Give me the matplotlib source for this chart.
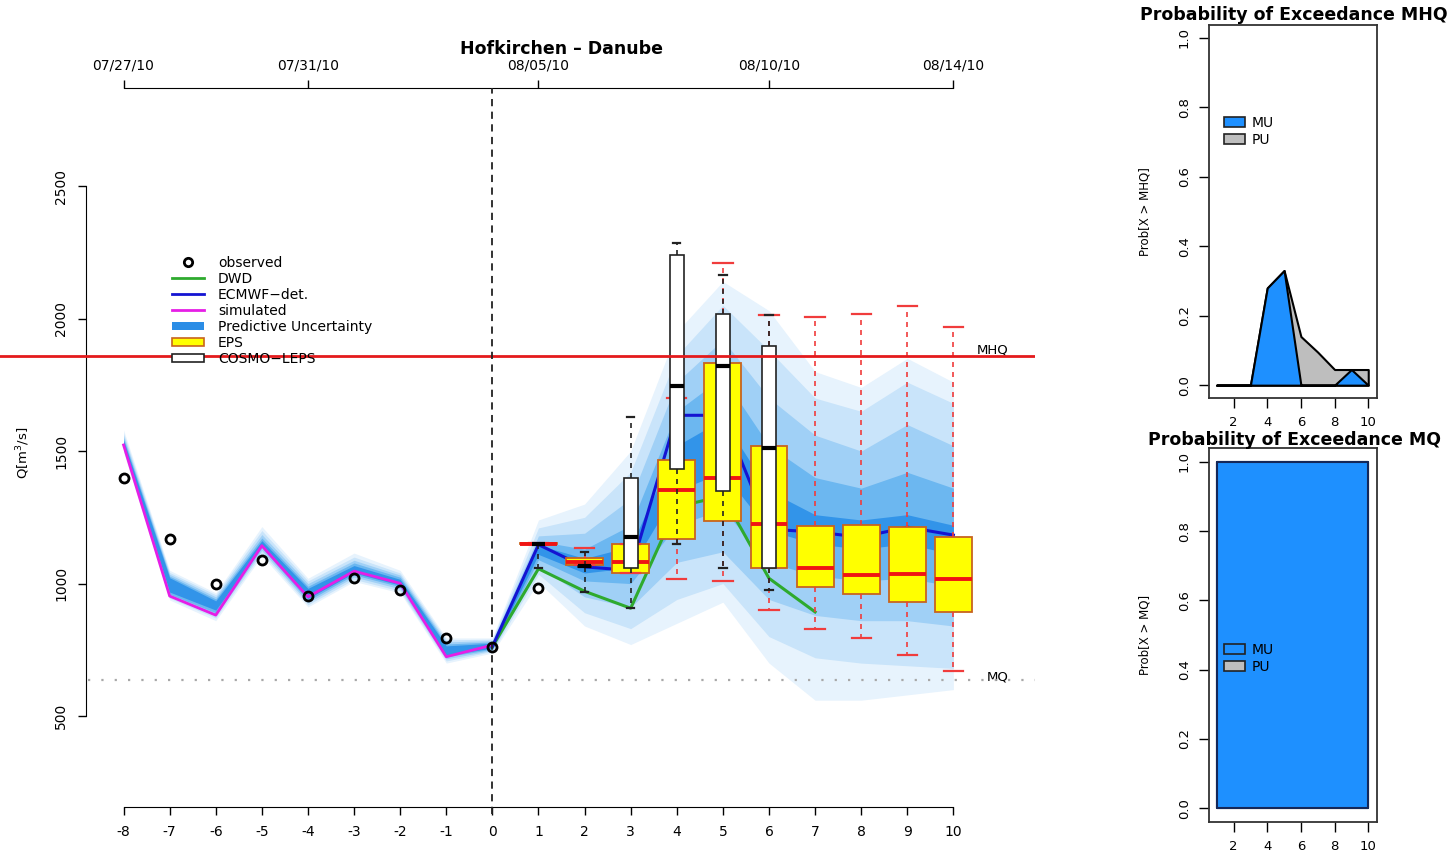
import matplotlib
matplotlib.use('Agg')
import matplotlib.pyplot as plt
from matplotlib.lines import Line2D
from matplotlib.patches import Patch

plt.rcParams['font.family'] = ['DejaVu Sans']

# --- data ------------------------------------------------------------------
leads = [-8, -7, -6, -5, -4, -3, -2, -1, 0, 1, 2, 3, 4, 5, 6, 7, 8, 9, 10]

obs_leads = [-8, -7, -6, -5, -4, -3, -2, -1, 0, 1]
observed = [1399, 1168, 1000, 1089, 954, 1022, 975, 794, 762, 983]

hind_leads = [-8, -7, -6, -5, -4, -3, -2, -1, 0]
simulated = [1523, 953, 881, 1143, 950, 1047, 1001, 724, 768]

fc_leads = [0, 1, 2, 3, 4, 5, 6, 7, 8, 9, 10]
ecmwf = [762, 1147, 1063, 1050, 1635, 1635, 1205, 1195, 1175, 1213, 1183]

dwd_leads = [0, 1, 2, 3, 4, 5, 6, 7]
dwd = [762, 1056, 971, 907, 1290, 1330, 1020, 893]

# predictive uncertainty, nested quantile bands (outer -> inner)
pu_lo1 = [1495, 938, 860, 1105, 912, 1008, 965, 700, 738, 1005, 840, 770, 850, 930, 700, 560, 560, 580, 600]
pu_hi1 = [1580, 1050, 965, 1215, 1020, 1115, 1050, 795, 795, 1240, 1300, 1500, 1950, 2140, 2030, 1800, 1740, 1850, 1760]
pu_lo2 = [1502, 945, 870, 1115, 920, 1016, 972, 708, 744, 1035, 890, 830, 940, 1000, 800, 720, 700, 690, 680]
pu_hi2 = [1568, 1042, 958, 1200, 1010, 1100, 1040, 788, 790, 1210, 1250, 1420, 1860, 2050, 1880, 1700, 1650, 1760, 1680]
pu_lo3 = [1508, 952, 880, 1125, 928, 1025, 980, 716, 748, 1065, 950, 910, 1080, 1120, 940, 880, 860, 860, 840]
pu_hi3 = [1558, 1035, 950, 1185, 1000, 1088, 1032, 780, 785, 1180, 1190, 1320, 1760, 1920, 1700, 1560, 1500, 1600, 1520]
pu_lo4 = [1514, 960, 890, 1135, 936, 1033, 988, 724, 752, 1090, 1010, 1000, 1220, 1280, 1080, 1030, 1010, 1020, 990]
pu_hi4 = [1548, 1028, 942, 1172, 990, 1078, 1024, 772, 780, 1160, 1130, 1220, 1650, 1780, 1520, 1400, 1360, 1420, 1360]
pu_lo5 = [1520, 968, 900, 1142, 944, 1040, 994, 730, 756, 1110, 1040, 1060, 1350, 1420, 1200, 1150, 1130, 1150, 1110]
pu_hi5 = [1540, 1022, 935, 1162, 982, 1068, 1016, 765, 775, 1145, 1095, 1140, 1520, 1620, 1350, 1260, 1240, 1260, 1220]

# EPS boxplots
eps_leads = [1, 2, 3, 4, 5, 6, 7, 8, 9, 10]
eps_whislo = [1148, 1070, 1040, 1019, 1009, 902, 827, 795, 730, 671]
eps_q1 = [1148, 1070, 1040, 1168, 1236, 1057, 986, 959, 931, 893]
eps_med = [1150, 1082, 1080, 1353, 1399, 1224, 1057, 1032, 1038, 1019]
eps_q3 = [1153, 1095, 1149, 1468, 1833, 1519, 1217, 1221, 1212, 1177]
eps_whishi = [1153, 1135, 1149, 1700, 2208, 2013, 2007, 2016, 2047, 1969]

# COSMO-LEPS boxplots
cosmo_leads = [1, 2, 3, 4, 5, 6]
cosmo_whislo = [1057, 969, 906, 1151, 1057, 975]
cosmo_q1 = [1150, 1064, 1060, 1431, 1349, 1057]
cosmo_med = [1150, 1066, 1176, 1746, 1821, 1510]
cosmo_q3 = [1150, 1068, 1397, 2240, 2016, 1896]
cosmo_whishi = [1150, 1120, 1630, 2284, 2164, 2013]

mhq = 1860
mq = 638

y_ticks = [500, 1000, 1500, 2000, 2500]
y_labels = ['500', '1000', '1500', '2000', '2500']
date_ticks = [-8, -4, 1, 6, 10]
date_labels = ['07/27/10', '07/31/10', '08/05/10', '08/10/10', '08/14/10']

# exceedance probabilities
prob_x = [1, 2, 3, 4, 5, 6, 7, 8, 9, 10]
mu_mhq = [0.0, 0.0, 0.0, 0.28, 0.33, 0.0, 0.0, 0.0, 0.045, 0.0]
pu_mhq = [0.0, 0.0, 0.0, 0.28, 0.33, 0.14, 0.095, 0.045, 0.045, 0.045]
mu_mq = [1.0, 1.0, 1.0, 1.0, 1.0, 1.0, 1.0, 1.0, 1.0, 1.0]
pu_mq = [1.0, 1.0, 1.0, 1.0, 1.0, 1.0, 1.0, 1.0, 1.0, 1.0]
prob_ticks = [0.0, 0.2, 0.4, 0.6, 0.8, 1.0]
prob_labels = ['0.0', '0.2', '0.4', '0.6', '0.8', '1.0']
prob_xticks = [2, 4, 6, 8, 10]

# --- layout helpers ---------------------------------------------------------
W, H = 1449, 855


def px_box(x0, y0, x1, y1):
    return [x0 / W, 1 - y1 / H, (x1 - x0) / W, (y1 - y0) / H]


fig = plt.figure(figsize=(W / 100, H / 100), dpi=100)

# --- main hydrograph --------------------------------------------------------
ax = fig.add_axes(px_box(0, 88, 1035, 807))
ax.patch.set_alpha(0)

band_colors = ['#e7f3fd', '#c9e4fa', '#a0d0f6', '#6cb7f0', '#3294e9']
bands = [(pu_lo1, pu_hi1), (pu_lo2, pu_hi2), (pu_lo3, pu_hi3), (pu_lo4, pu_hi4), (pu_lo5, pu_hi5)]
for (lo, hi), c in zip(bands, band_colors):
    ax.fill_between(leads, lo, hi, color=c, lw=0, zorder=1)

ax.plot(hind_leads, simulated, color='#e61ee6', lw=2, zorder=3)
ax.plot(dwd_leads, dwd, color='#2eaa2e', lw=2.2, zorder=3)
ax.plot(fc_leads, ecmwf, color='#1414d2', lw=2.2, zorder=3)

eps_stats = [dict(med=m, q1=a, q3=b, whislo=l, whishi=h, fliers=[])
             for l, a, m, b, h in zip(eps_whislo, eps_q1, eps_med, eps_q3, eps_whishi)]
ax.bxp(eps_stats, positions=eps_leads, widths=0.8, capwidths=0.42,
       patch_artist=True, showfliers=False, manage_ticks=False, zorder=4,
       boxprops=dict(facecolor='#ffff00', edgecolor='#c8641e', linewidth=1.3),
       medianprops=dict(color='#f01414', linewidth=2.8),
       whiskerprops=dict(color='#f03c3c', linestyle=(0, (3, 3)), linewidth=1.2),
       capprops=dict(color='#f03c3c', linewidth=1.6))

cosmo_stats = [dict(med=m, q1=a, q3=b, whislo=l, whishi=h, fliers=[])
               for l, a, m, b, h in zip(cosmo_whislo, cosmo_q1, cosmo_med, cosmo_q3, cosmo_whishi)]
ax.bxp(cosmo_stats, positions=cosmo_leads, widths=0.3, capwidths=0.16,
       patch_artist=True, showfliers=False, manage_ticks=False, zorder=5,
       boxprops=dict(facecolor='white', edgecolor='#222222', linewidth=1.2),
       medianprops=dict(color='black', linewidth=3),
       whiskerprops=dict(color='#222222', linestyle=(0, (3, 3)), linewidth=1.2),
       capprops=dict(color='#222222', linewidth=1.6))

ax.axhline(mhq, color='#e41a1c', lw=2, zorder=6)
ax.axhline(mq, xmin=88 / 1035, color='#a8a8a8', ls=(0, (1, 5)), lw=1.6, zorder=6)
ax.axvline(0, ymin=-0.01, color='#222222', ls=(0, (4, 3)), lw=1.3, zorder=8, clip_on=False)
ax.plot(obs_leads, observed, 'o', ms=6.5, mfc='none', mec='black', mew=2, zorder=9)

ax.annotate('MHQ', (10.5, mhq), xytext=(0, 4), textcoords='offset points',
            va='center', ha='left', fontsize=9.5)
ax.annotate('MQ', (10.72, mq), xytext=(0, 2), textcoords='offset points',
            va='center', ha='left', fontsize=9.5)

ax.set_xlim(-10.68, 11.77)
ax.set_ylim(157, 2870)

for s in ['top', 'right']:
    ax.spines[s].set_visible(False)
ax.spines['left'].set_position(('data', -8.81))
ax.spines['left'].set_bounds(500, 2500)
ax.spines['bottom'].set_bounds(-8, 10)
ax.set_xticks(leads, [str(v) for v in leads])
ax.set_yticks(y_ticks, y_labels)
ax.tick_params(axis='both', direction='out', length=6, width=1, labelsize=10)
ax.tick_params(axis='x', pad=7)
ax.tick_params(axis='y', pad=7, labelrotation=90)
for lab in ax.get_yticklabels():
    lab.set_va('center')

top = ax.secondary_xaxis('top')
top.set_xticks(date_ticks, date_labels)
top.spines['top'].set_bounds(-8, 10)
top.tick_params(direction='out', length=6, width=1, labelsize=10, pad=5)

fig.text(562 / W, 1 - 49 / H, 'Hofkirchen \u2013 Danube', ha='center', va='center',
         fontsize=12.5, fontweight='bold')
fig.text(23 / W, 1 - 453 / H, 'Q[m$^3$/s]', rotation=90, ha='center', va='center', fontsize=9.5)

handles = [
    Line2D([], [], ls='none', marker='o', ms=6, mfc='none', mec='black', mew=2),
    Line2D([], [], color='#2eaa2e', lw=2),
    Line2D([], [], color='#1414d2', lw=2),
    Line2D([], [], color='#e61ee6', lw=2),
    Patch(facecolor='#2a8de6', edgecolor='none'),
    Patch(facecolor='#ffff00', edgecolor='#c8641e', lw=1.2),
    Patch(facecolor='white', edgecolor='#222222', lw=1.2),
]
labels = ['observed', 'DWD', 'ECMWF\u2212det.', 'simulated', 'Predictive Uncertainty', 'EPS', 'COSMO\u2212LEPS']
fig.legend(handles, labels, loc='upper left', bbox_to_anchor=(172 / W, 1 - 256 / H),
           frameon=False, fontsize=10, borderpad=0, borderaxespad=0, labelspacing=0.14,
           handlelength=2.3, handleheight=0.55, handletextpad=1.0)

# --- exceedance probability panels -----------------------------------------
def prob_panel(box, xlim, ylim, mu, pu, mu_edge, title, title_y, ylabel, leg_y):
    axp = fig.add_axes(px_box(*box))
    axp.fill_between(prob_x, 0, pu, facecolor='#bebebe', edgecolor='black', lw=1.5)
    axp.fill_between(prob_x, 0, mu, facecolor='#1e90ff', edgecolor=mu_edge, lw=1.5)
    axp.set_xlim(*xlim)
    axp.set_ylim(*ylim)
    axp.set_xticks(prob_xticks, [str(v) for v in prob_xticks])
    axp.set_yticks(prob_ticks, prob_labels)
    axp.tick_params(axis='both', direction='out', length=7, width=1, labelsize=9.5)
    axp.tick_params(axis='y', labelrotation=90, pad=6)
    axp.tick_params(axis='x', pad=6)
    for lab in axp.get_yticklabels():
        lab.set_va('center')
    for s in axp.spines.values():
        s.set_color('#333333')
        s.set_linewidth(1.3)
    fig.text(1294 / W, 1 - title_y / H, title, ha='center', va='center',
             fontsize=12.5, fontweight='bold')
    fig.text(1145 / W, 1 - (box[1] + box[3]) / 2 / H, ylabel, rotation=90,
             ha='center', va='center', fontsize=8.5)
    leg_handles = [Patch(facecolor='#1e90ff', edgecolor='#222222', lw=1.2),
                   Patch(facecolor='#bebebe', edgecolor='#222222', lw=1.2)]
    fig.legend(leg_handles, ['MU', 'PU'], loc='upper left',
               bbox_to_anchor=(1224 / W, 1 - leg_y / H), frameon=False, fontsize=10,
               borderpad=0, borderaxespad=0, labelspacing=0.2,
               handlelength=1.5, handleheight=0.7, handletextpad=0.5)
    return axp


prob_panel((1209, 25, 1377, 398), (0.54, 10.52), (-0.037, 1.037), mu_mhq, pu_mhq, 'black',
           'Probability of Exceedance MHQ', 15, 'Prob[X > MHQ]', 116)
prob_panel((1209, 448, 1377, 822), (0.54, 10.52), (-0.04, 1.04), mu_mq, pu_mq, '#14285a',
           'Probability of Exceedance MQ', 440, 'Prob[X > MQ]', 643)

fig.savefig('out.png', dpi=100)
